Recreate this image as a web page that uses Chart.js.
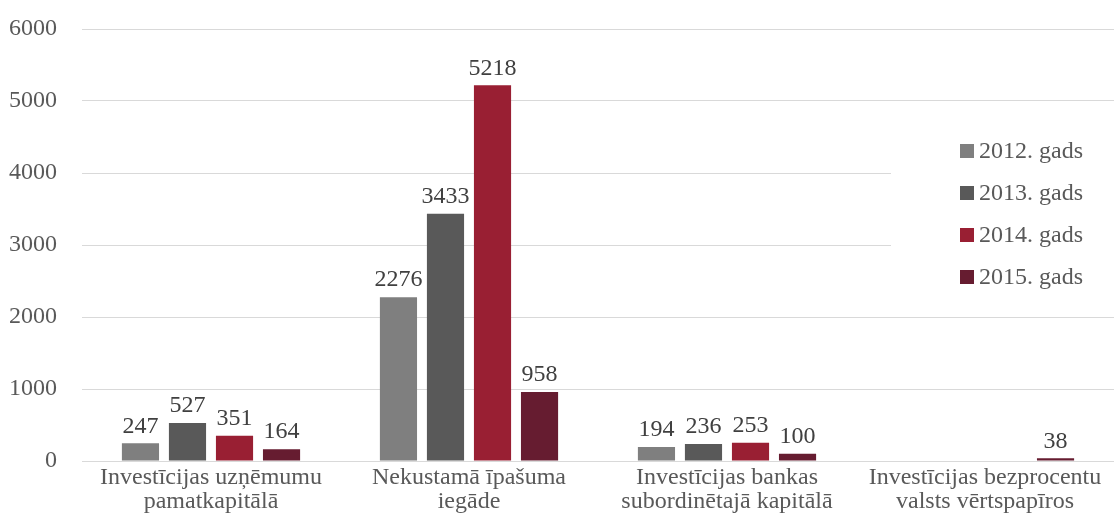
<!DOCTYPE html>
<html>
<head>
<meta charset="utf-8">
<script src="https://cdn.jsdelivr.net/npm/chart.js@4/dist/chart.umd.min.js"></script>
<style>
  html, body { margin: 0; padding: 0; background: #ffffff; }
  #wrap { width: 1114px; height: 513px; position: relative; }
</style>
</head>
<body>
<div id="wrap"><canvas id="c" width="1114" height="513"></canvas></div>
<script>
const categories = [
  ['Investīcijas uzņēmumu', 'pamatkapitālā'],
  ['Nekustamā īpašuma', 'iegāde'],
  ['Investīcijas bankas', 'subordinētajā kapitālā'],
  ['Investīcijas bezprocentu', 'valsts vērtspapīros']
];
const seriesNames = ['2012. gads', '2013. gads', '2014. gads', '2015. gads'];
const values2012 = [247, 2276, 194, null];
const values2013 = [527, 3433, 236, null];
const values2014 = [351, 5218, 253, null];
const values2015 = [164, 958, 100, 38];
const yTicks = [0, 1000, 2000, 3000, 4000, 5000, 6000];

const colors = ['#7f7f7f', '#595959', '#991f33', '#661c30'];
const FONT = '"Liberation Serif", "Times New Roman", serif';

const allSeries = [values2012, values2013, values2014, values2015];

const valueLabels = {
  id: 'valueLabels',
  afterDatasetsDraw(chart) {
    const ctx = chart.ctx;
    ctx.save();
    ctx.font = '24px ' + FONT;
    ctx.fillStyle = '#404040';
    ctx.textAlign = 'center';
    ctx.textBaseline = 'bottom';
    chart.data.datasets.forEach((ds, i) => {
      const meta = chart.getDatasetMeta(i);
      meta.data.forEach((bar, j) => {
        const v = ds.data[j];
        if (v === null || v === undefined) return;
        ctx.fillText(String(v), bar.x, bar.y - 5);
      });
    });
    ctx.restore();
  }
};

const customLegend = {
  id: 'customLegend',
  afterDraw(chart) {
    const ctx = chart.ctx;
    ctx.save();
    ctx.fillStyle = '#ffffff';
    ctx.fillRect(891, 118, 223, 190);
    ctx.font = '24px ' + FONT;
    ctx.textAlign = 'left';
    ctx.textBaseline = 'middle';
    chart.data.datasets.forEach((ds, i) => {
      const cy = 151 + i * 42;
      ctx.fillStyle = ds.backgroundColor;
      ctx.fillRect(960, cy - 7, 14, 14);
      ctx.fillStyle = '#595959';
      ctx.fillText(ds.label, 979, cy + 1);
    });
    ctx.restore();
  }
};

new Chart(document.getElementById('c'), {
  type: 'bar',
  data: {
    labels: categories,
    datasets: allSeries.map((d, i) => ({
      label: seriesNames[i],
      data: d,
      backgroundColor: colors[i],
      borderWidth: 0,
      categoryPercentage: 0.729,
      barPercentage: 0.79
    }))
  },
  options: {
    responsive: false,
    animation: false,
    devicePixelRatio: 1,
    layout: { padding: { top: 29, right: 0, left: 0, bottom: 0 } },
    plugins: {
      legend: { display: false },
      tooltip: { enabled: false }
    },
    scales: {
      x: {
        grid: { display: false, drawTicks: false },
        border: { display: true, color: '#d9d9d9', width: 1 },
        ticks: {
          color: '#595959',
          font: { family: FONT, size: 24, lineHeight: 1.0 },
          padding: 5,
          maxRotation: 0,
          autoSkip: false
        },
        afterFit(scale) { scale.height = 52; scale.paddingLeft = 0; scale.paddingRight = 0; }
      },
      y: {
        min: 0,
        max: 6000,
        afterBuildTicks(scale) { scale.ticks = yTicks.map(v => ({ value: v })); },
        grid: { color: '#d9d9d9', drawTicks: false, lineWidth: 1 },
        border: { display: false },
        ticks: {
          color: '#595959',
          font: { family: FONT, size: 24 },
          padding: 25,
          callback: (v) => String(v)
        },
        afterFit(scale) { scale.width = 82; scale.paddingTop = 0; scale.paddingBottom = 0; }
      }
    }
  },
  plugins: [valueLabels, customLegend]
});
</script>
</body>
</html>
